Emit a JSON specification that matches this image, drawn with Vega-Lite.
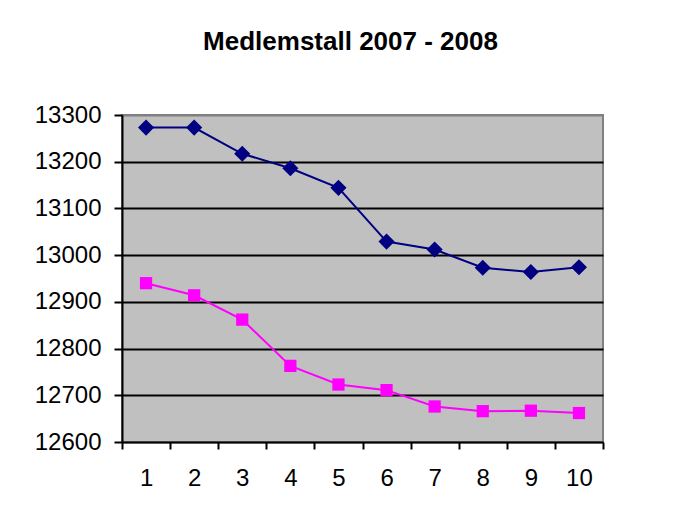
{
  "$schema": "https://vega.github.io/schema/vega-lite/v6.json",
  "width": 481,
  "height": 327,
  "autosize": {"type": "none"},
  "padding": {"left": 122, "top": 115, "right": 75, "bottom": 75},
  "background": "white",
  "title": {
    "text": "Medlemstall 2007 - 2008",
    "font": "Liberation Sans",
    "fontSize": 26,
    "fontWeight": "bold",
    "color": "black",
    "anchor": "middle",
    "frame": "group",
    "offset": 48,
    "dx": -12
  },
  "config": {
    "view": {"fill": "#C0C0C0", "stroke": "#808080", "strokeWidth": 2},
    "axis": {"labelFont": "Liberation Sans", "labelFontSize": 24, "labelColor": "black"}
  },
  "data": {
    "values": [
      {"month": 1, "series": "2007", "members": 13273},
      {"month": 2, "series": "2007", "members": 13273},
      {"month": 3, "series": "2007", "members": 13217},
      {"month": 4, "series": "2007", "members": 13186},
      {"month": 5, "series": "2007", "members": 13144},
      {"month": 6, "series": "2007", "members": 13029},
      {"month": 7, "series": "2007", "members": 13012},
      {"month": 8, "series": "2007", "members": 12973},
      {"month": 9, "series": "2007", "members": 12964},
      {"month": 10, "series": "2007", "members": 12974},
      {"month": 1, "series": "2008", "members": 12940},
      {"month": 2, "series": "2008", "members": 12914},
      {"month": 3, "series": "2008", "members": 12862},
      {"month": 4, "series": "2008", "members": 12763},
      {"month": 5, "series": "2008", "members": 12723},
      {"month": 6, "series": "2008", "members": 12711},
      {"month": 7, "series": "2008", "members": 12676},
      {"month": 8, "series": "2008", "members": 12666},
      {"month": 9, "series": "2008", "members": 12667},
      {"month": 10, "series": "2008", "members": 12662}
    ]
  },
  "encoding": {
    "x": {
      "field": "month",
      "type": "ordinal",
      "scale": {"paddingInner": 0, "paddingOuter": 0},
      "axis": {
        "title": null,
        "labelAngle": 0,
        "tickBand": "extent",
        "grid": false,
        "domainColor": "black",
        "domainWidth": 2,
        "tickColor": "black",
        "tickWidth": 2,
        "tickSize": 7,
        "labelPadding": 17
      }
    },
    "y": {
      "field": "members",
      "type": "quantitative",
      "scale": {"domain": [12600, 13300], "nice": false, "zero": false},
      "axis": {
        "title": null,
        "values": [12600, 12700, 12800, 12900, 13000, 13100, 13200, 13300],
        "format": "d",
        "grid": true,
        "gridColor": {"condition": {"test": "datum.value === 13300 || datum.value === 12600", "value": "#808080"}, "value": "black"},
        "gridWidth": 2,
        "domainColor": "black",
        "domainWidth": 2,
        "tickColor": "black",
        "tickWidth": 2,
        "tickSize": 8,
        "labelPadding": 13
      }
    },
    "color": {
      "field": "series",
      "type": "nominal",
      "scale": {"domain": ["2007", "2008"], "range": ["#000080", "#FF00FF"]},
      "legend": null
    }
  },
  "layer": [
    {"mark": {"type": "line", "strokeWidth": 2}},
    {
      "mark": {"type": "point", "filled": true, "opacity": 1},
      "encoding": {
        "shape": {"field": "series", "type": "nominal", "scale": {"domain": ["2007", "2008"], "range": ["diamond", "square"]}, "legend": null},
        "size": {"field": "series", "type": "nominal", "scale": {"domain": ["2007", "2008"], "range": [260, 150]}, "legend": null}
      }
    }
  ]
}
